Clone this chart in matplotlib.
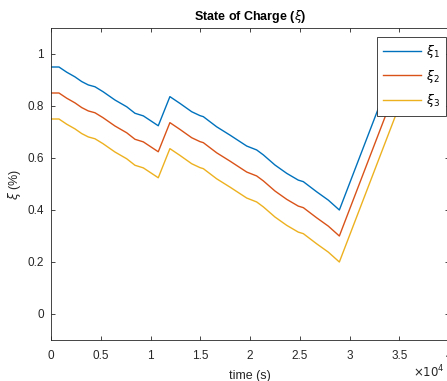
import numpy as np
import matplotlib.pyplot as plt
from matplotlib.ticker import FuncFormatter, MultipleLocator

# Time axis (s) and state of charge for the three cells
time_s = [0, 800, 1580, 2410, 3085, 3750, 4420, 5230, 6430, 7610, 8440,
          9280, 10780, 11950, 12960, 14140, 14970, 15310, 16650, 17990,
          19670, 20670, 21340, 22510, 23690, 24850, 25360, 26700, 27870,
          28980, 35000]

xi_1 = [0.95, 0.95, 0.930, 0.912, 0.894, 0.881, 0.874, 0.855, 0.823, 0.797,
        0.772, 0.762, 0.724, 0.836, 0.810, 0.778, 0.763, 0.759, 0.720, 0.688,
        0.646, 0.631, 0.612, 0.573, 0.541, 0.515, 0.509, 0.470, 0.438, 0.400,
        1.00]

xi_2 = [0.85, 0.85, 0.830, 0.812, 0.794, 0.781, 0.774, 0.755, 0.723, 0.697,
        0.672, 0.662, 0.624, 0.736, 0.710, 0.678, 0.663, 0.659, 0.620, 0.588,
        0.546, 0.531, 0.512, 0.473, 0.441, 0.415, 0.409, 0.370, 0.338, 0.300,
        0.90]

xi_3 = [0.75, 0.75, 0.730, 0.712, 0.694, 0.681, 0.674, 0.655, 0.623, 0.597,
        0.572, 0.562, 0.524, 0.636, 0.610, 0.578, 0.563, 0.559, 0.520, 0.488,
        0.446, 0.431, 0.412, 0.373, 0.341, 0.315, 0.309, 0.270, 0.238, 0.200,
        0.80]

labels = [r"$\xi_1$", r"$\xi_2$", r"$\xi_3$"]
colors = ["#0072BD", "#D95319", "#EDB120"]

plt.rcParams["font.family"] = ["Liberation Sans", "DejaVu Sans"]
plt.rcParams["mathtext.fontset"] = "dejavusans"

W, H = 447, 381
fig = plt.figure(figsize=(W / 100, H / 100), dpi=100)
ax = fig.add_axes([51 / W, 1 - 340 / H, 398 / W, 312 / H])

for y, lab, c in zip([xi_1, xi_2, xi_3], labels, colors):
    ax.plot(time_s, y, color=c, linewidth=1.0, label=lab)

ax.set_xlim(0, 40000)
ax.set_ylim(-0.1, 1.1)
ax.xaxis.set_major_locator(MultipleLocator(5000))
ax.yaxis.set_major_locator(MultipleLocator(0.2))
ax.xaxis.set_major_formatter(FuncFormatter(lambda v, p: "%g" % (v / 1e4)))
ax.yaxis.set_major_formatter(FuncFormatter(lambda v, p: "%g" % round(v, 1)))

ax.tick_params(direction="in", top=True, right=True, length=3,
               width=0.6, color="#262626", labelsize=8.5, labelcolor="#262626")
ax.tick_params(axis="x", pad=7)
ax.tick_params(axis="y", pad=5)
for s in ax.spines.values():
    s.set_color("#262626")
    s.set_linewidth(0.6)

ax.set_xlabel("time (s)", fontsize=9, color="#262626", labelpad=6)
ax.set_ylabel(r"$\xi$ (%)", fontsize=9, color="#262626", labelpad=3)
ax.set_title(r"State of Charge ($\xi$)", fontsize=9, fontweight="bold",
             pad=6)

fig.text(445 / W, 1 - 372 / H, r"$\times10^4$", ha="right", va="center",
         fontsize=8.5, color="#262626")

leg = ax.legend(loc="upper right", bbox_to_anchor=(446 / W, 1 - 37 / H),
                bbox_transform=fig.transFigure, borderaxespad=0,
                fancybox=False, framealpha=1, edgecolor="#262626",
                fontsize=9, handlelength=3.0, labelspacing=0.6,
                handletextpad=0.4, borderpad=0.5)
leg.get_frame().set_linewidth(0.6)

plt.savefig("out.png", dpi=100)
